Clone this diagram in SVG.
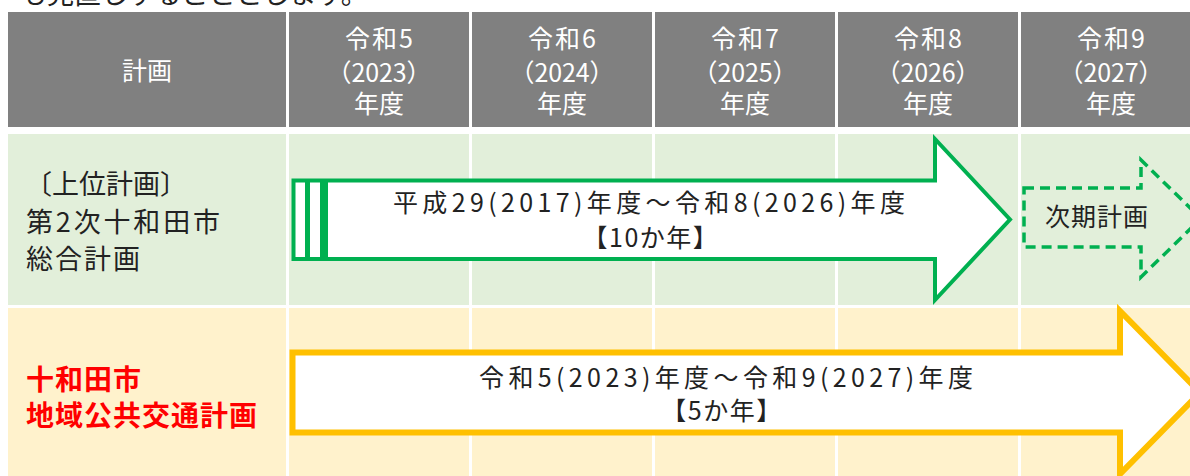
<svg xmlns="http://www.w3.org/2000/svg" width="1190" height="476" viewBox="0 0 1190 476">
<style>
.t{font-family:"Noto Sans CJK JP","Noto Sans",sans-serif;text-spacing-trim:space-all;}
.trim{text-spacing-trim:normal;letter-spacing:1.5px;}
.hd{fill:#808080;}
.hw{fill:#ffffff;font-size:25px;text-anchor:middle;}
.g{fill:#E2EFDA;}
.y{fill:#FFF2CC;}
.lbl{fill:#222222;font-size:27px;}
.red{fill:#FF0000;font-size:28px;font-weight:bold;letter-spacing:1px;}
.in{fill:#222222;font-size:25px;}
.mid{text-anchor:middle;}
</style>
<rect width="1190" height="476" fill="#ffffff"/>
<text class="t" x="20" y="4" font-size="27" fill="#222222">も見直しすることとします。</text>
<g id="header">
<rect class="hd" x="8" y="12" width="278" height="115"/>
<rect class="hd" x="289" y="12" width="180" height="115"/>
<rect class="hd" x="472" y="12" width="180" height="115"/>
<rect class="hd" x="655" y="12" width="180" height="115"/>
<rect class="hd" x="838" y="12" width="180" height="115"/>
<rect class="hd" x="1021" y="12" width="180" height="115"/>
<text class="t hw" x="147" y="80">計画</text>
<text class="t hw" x="379" y="48" textLength="68">令和5</text>
<text class="t hw" x="379" y="82" textLength="105">（2023）</text>
<text class="t hw" x="379" y="113">年度</text>
<text class="t hw" x="562" y="48" textLength="68">令和6</text>
<text class="t hw" x="562" y="82" textLength="105">（2024）</text>
<text class="t hw" x="562" y="113">年度</text>
<text class="t hw" x="745" y="48" textLength="68">令和7</text>
<text class="t hw" x="745" y="82" textLength="105">（2025）</text>
<text class="t hw" x="745" y="113">年度</text>
<text class="t hw" x="928" y="48" textLength="68">令和8</text>
<text class="t hw" x="928" y="82" textLength="105">（2026）</text>
<text class="t hw" x="928" y="113">年度</text>
<text class="t hw" x="1111" y="48" textLength="68">令和9</text>
<text class="t hw" x="1111" y="82" textLength="105">（2027）</text>
<text class="t hw" x="1111" y="113">年度</text>
</g>
<g id="row-upper">
<rect class="g" x="8" y="134" width="278" height="171"/>
<rect class="g" x="289" y="134" width="180" height="171"/>
<rect class="g" x="472" y="134" width="180" height="171"/>
<rect class="g" x="655" y="134" width="180" height="171"/>
<rect class="g" x="838" y="134" width="180" height="171"/>
<rect class="g" x="1021" y="134" width="180" height="171"/>
<text class="t lbl" x="25" y="194" textLength="162">〔上位計画〕</text>
<text class="t lbl" x="26" y="232" textLength="194">第2次十和田市</text>
<text class="t lbl" x="26" y="269" textLength="114">総合計画</text>
</g>
<g id="row-transit">
<rect class="y" x="8" y="308" width="278" height="170"/>
<rect class="y" x="289" y="308" width="180" height="170"/>
<rect class="y" x="472" y="308" width="180" height="170"/>
<rect class="y" x="655" y="308" width="180" height="170"/>
<rect class="y" x="838" y="308" width="180" height="170"/>
<rect class="y" x="1021" y="308" width="180" height="170"/>
<text class="t red" x="26" y="390">十和田市</text>
<text class="t red" x="26" y="426">地域公共交通計画</text>
</g>
<g id="connectors">
<g id="arrow-general-plan">
<path d="M293.5,180.5 H935 V139 L1010,219.5 L935,300 V259 H293.5 Z" fill="#ffffff" stroke="#00B050" stroke-width="4" stroke-linejoin="miter"/>
<line x1="307.5" y1="180.5" x2="307.5" y2="259" stroke="#00B050" stroke-width="5"/>
<line x1="324" y1="180.5" x2="324" y2="259" stroke="#00B050" stroke-width="8"/>
<text class="t in" x="393" y="212" textLength="512">平成29(2017)年度～令和8(2026)年度</text>
<text class="t in mid trim" x="651" y="247">【10か年】</text>
</g>
<g id="arrow-next-plan">
<path d="M1024,188 H1141 V160 L1201,218.5 L1141,277 V247 H1024 Z" fill="none" stroke="#00B050" stroke-width="3.5" stroke-dasharray="10,6"/>
<text class="t" x="1045" y="226" font-size="25" fill="#222222" textLength="103">次期計画</text>
</g>
<g id="arrow-transit-plan">
<path d="M292.5,352.5 H1120 V311 L1200,392.5 L1120,474 V432.5 H292.5 Z" fill="#ffffff" stroke="#FFC000" stroke-width="6"/>
<text class="t in" x="479" y="387" textLength="494">令和5(2023)年度～令和9(2027)年度</text>
<text class="t in mid trim" x="722" y="420">【5か年】</text>
</g>
</g>
</svg>
